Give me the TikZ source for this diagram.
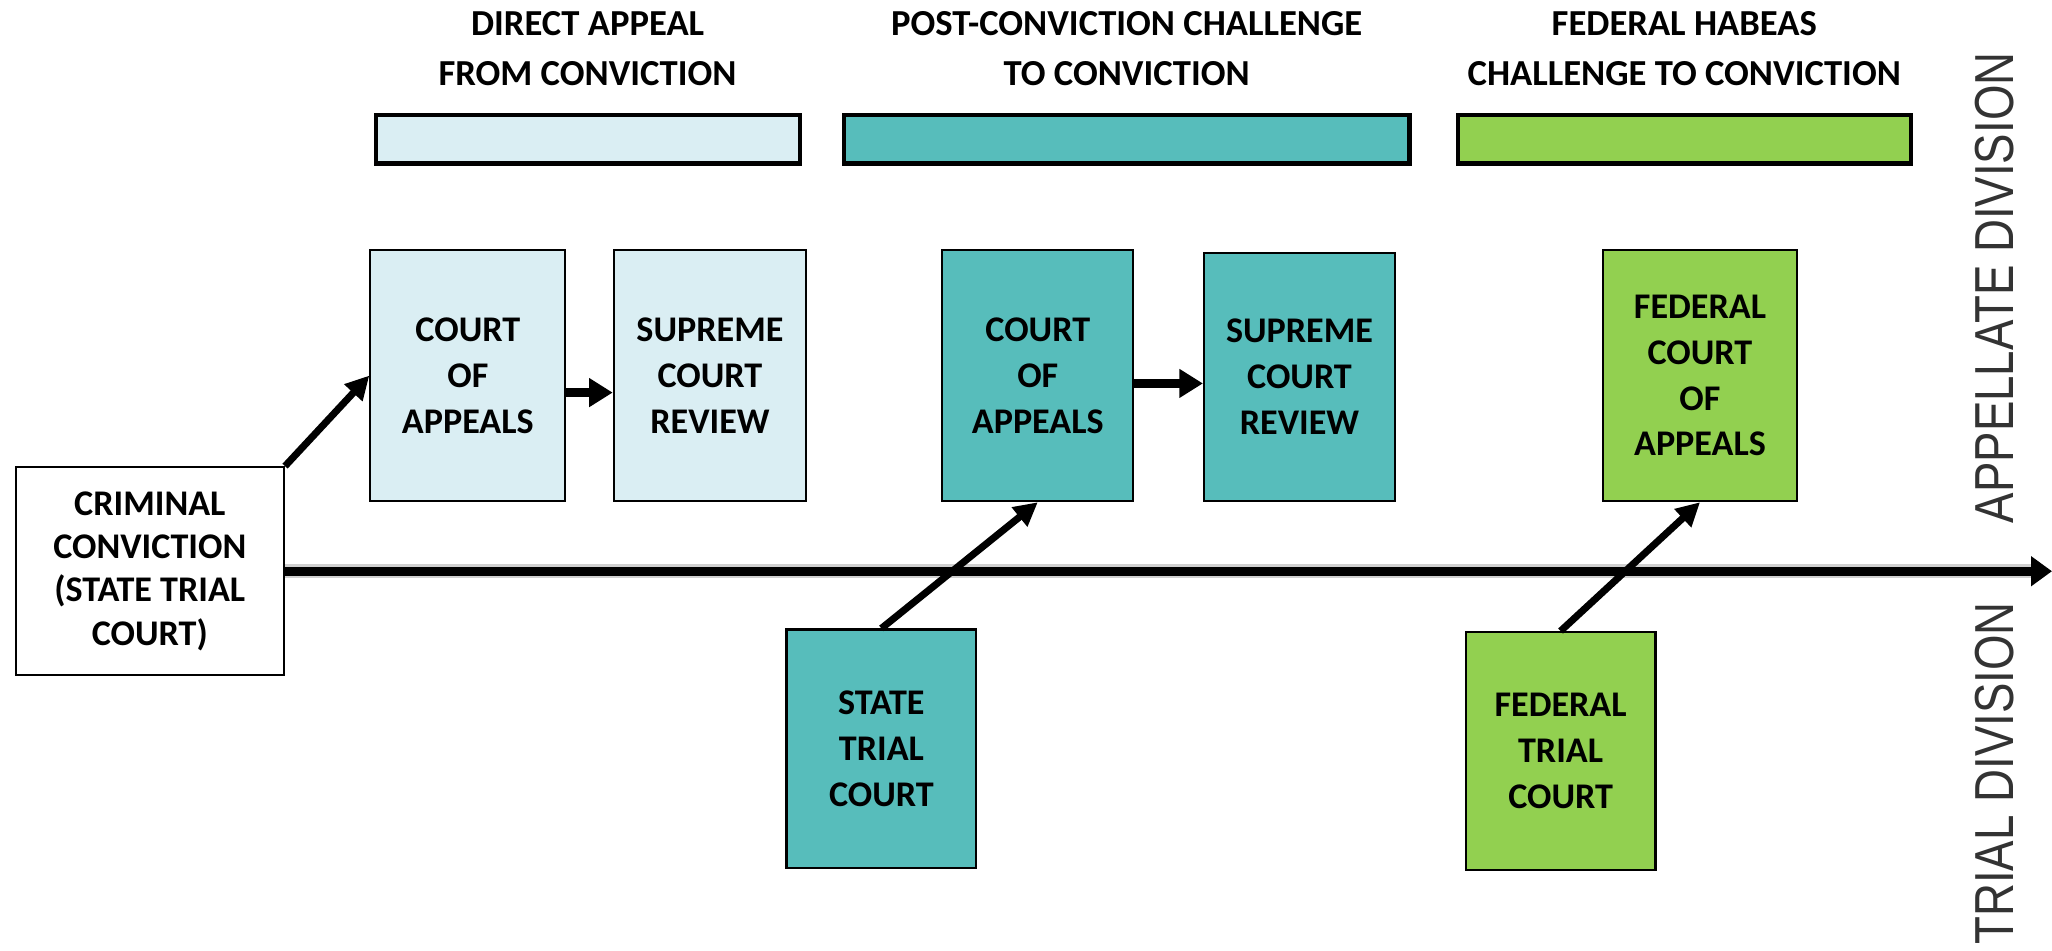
\documentclass[tikz,border=0pt]{standalone}
\usepackage{fontspec}
\setmainfont{Carlito}
\newfontfamily\divfont{Liberation Sans}
\usetikzlibrary{arrows.meta}
\definecolor{lblue}{HTML}{DAEEF3}
\definecolor{tealc}{HTML}{57BDBB}
\definecolor{lgreen}{HTML}{92D050}
\begin{document}
\begin{tikzpicture}[x=0.5pt,y=-0.5pt,
  box/.style={draw=black, line width=0.8pt, inner sep=0pt, align=center,
    font=\fontsize{13.8}{17.5}\selectfont\bfseries},
  court/.style={box, minimum width=74pt, minimum height=96pt},
  trial/.style={box, minimum width=72.5pt, minimum height=91pt},
  bar/.style={draw=black, line width=1.6pt, inner sep=0pt, minimum height=18.5pt},
  hdr/.style={align=center, inner sep=0pt, font=\fontsize{14}{19}\selectfont\bfseries},
  conn/.style={line width=2.7pt, -{Triangle[length=9pt,width=9pt]}},
  short/.style={line width=3.5pt, -{Triangle[length=9pt,width=10.5pt]}},
  division/.style={rotate=90, inner sep=0pt, text=black!80, font=\divfont\fontsize{21}{21}\selectfont}]
\useasboundingbox (0,0) rectangle (1568,726);
\fill[white] (0,0) rectangle (1568,726);

% headers
\node[hdr] (h1) at (449,37) {DIRECT APPEAL\\FROM CONVICTION};
\node[hdr] (h2) at (861,37) {POST-CONVICTION CHALLENGE\\TO CONVICTION};
\node[hdr] (h3) at (1287,37) {FEDERAL HABEAS\\CHALLENGE TO CONVICTION};

% bars
\node[bar, fill=lblue, minimum width=162pt] (b1) at (449,106.5) {};
\node[bar, fill=tealc, minimum width=216pt] (b2) at (861,106.5) {};
\node[bar, fill=lgreen, minimum width=173pt] (b3) at (1287,106.5) {};

% boxes
\node[box, fill=white, minimum width=102.5pt, minimum height=79.5pt,
  font=\fontsize{13.8}{16.5}\selectfont\bfseries] (crim) at (114.5,436.5)
  {CRIMINAL\\CONVICTION\\(STATE TRIAL\\COURT)};
\node[court, fill=lblue, minimum width=74.5pt] (coa1) at (357.5,287) {COURT\\OF\\APPEALS};
\node[court, fill=lblue, minimum width=73.5pt] (scr1) at (542.5,287) {SUPREME\\COURT\\REVIEW};
\node[court, fill=tealc, minimum width=73pt] (coa2) at (793,287) {COURT\\OF\\APPEALS};
\node[court, fill=tealc, minimum width=73pt, minimum height=95pt] (scr2) at (993,288) {SUPREME\\COURT\\REVIEW};
\node[court, fill=lgreen] (fcoa) at (1299,287) {FEDERAL\\COURT\\OF\\APPEALS};
\node[trial, fill=tealc] (stc) at (673.5,572) {STATE\\TRIAL\\COURT};
\node[trial, fill=lgreen] (ftc) at (1192.5,574) {FEDERAL\\TRIAL\\COURT};

% timeline
\coordinate (tend) at (1568,436.5);
\draw[line width=5.5pt, black!30, opacity=0.6] (crim.east) -- ([xshift=-6pt]tend);
\draw[line width=3.3pt, -{Triangle[length=8pt,width=11pt]}] (crim.east) -- (tend);

% connectors
\draw[conn] (crim.north east) -- (coa1.west);
\draw[short] ([yshift=-6.5pt]coa1.east) -- ([yshift=-6.5pt]coa1.east -| scr1.west);
\draw[short] ([yshift=-3pt]coa2.east) -- ([yshift=-3pt]coa2.east -| scr2.west);
\draw[conn] (stc.north) -- (coa2.south);
\draw[conn] (ftc.north) -- (fcoa.south);

% division labels
\node[division] (app) at (1524,220) {\scalebox{0.83}[1]{APPELLATE DIVISION}};
\node[division] (tri) at (1524,591) {\scalebox{0.83}[1]{TRIAL DIVISION}};
\end{tikzpicture}
\end{document}
